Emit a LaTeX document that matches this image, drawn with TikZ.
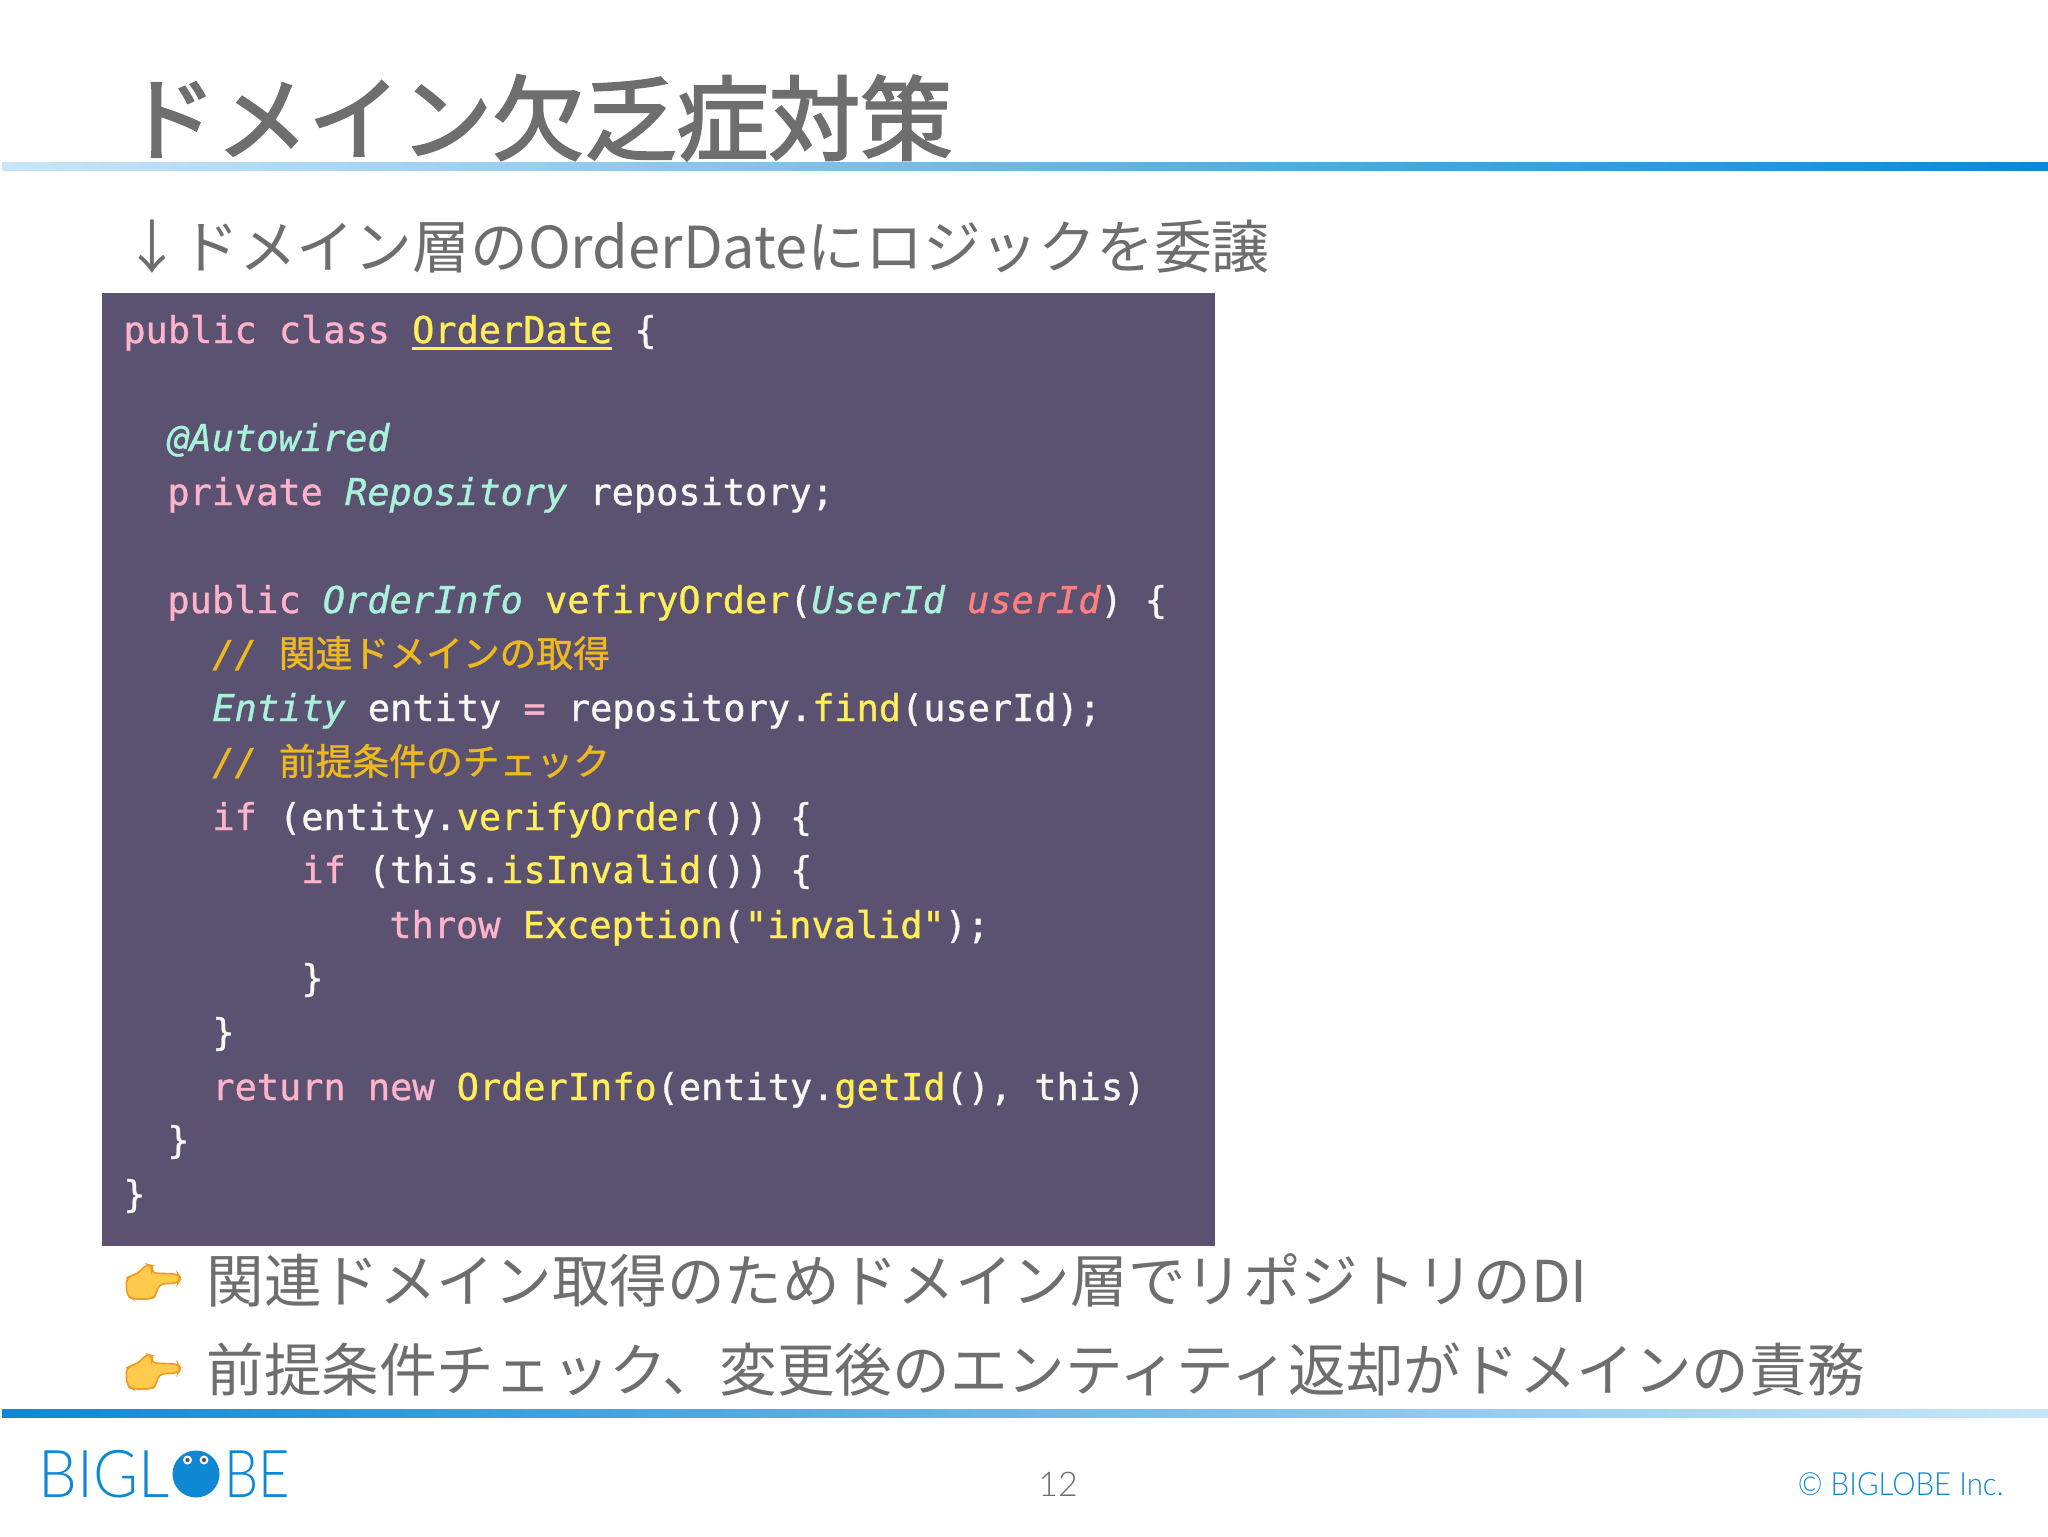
\documentclass[tikz,border=0pt]{standalone}
\usepackage{fontspec}
\setmainfont{Noto Sans CJK JP}
\newfontfamily\titlefont[FakeBold=2.4]{Noto Sans CJK JP}
\newfontfamily\codefont[FakeBold=1]{DejaVu Sans Mono}
\newfontfamily\jpcode[FakeBold=1]{Noto Sans CJK JP}
\newfontfamily\logofont{Lato Light}
\usepackage{xcolor}
\usetikzlibrary{positioning}
\definecolor{inkgray}{HTML}{6E6E6E}
\definecolor{panel}{HTML}{5B5272}
\definecolor{barblue}{HTML}{0E88D3}
\definecolor{barlight}{HTML}{C8E6F8}
\definecolor{keyword}{HTML}{FFB3CB}
\definecolor{typename}{HTML}{A9F2DA}
\definecolor{funcname}{HTML}{FFEE58}
\definecolor{argname}{HTML}{FF7F7F}
\definecolor{remark}{HTML}{EDB91F}
\definecolor{plain}{HTML}{F8F8F2}
\definecolor{handfill}{HTML}{FFCB4C}
\definecolor{handedge}{HTML}{F19A20}
\newcommand{\kw}[1]{\textcolor{keyword}{#1}}
\newcommand{\ty}[1]{\textcolor{typename}{\itshape #1}}
\newcommand{\fn}[1]{\textcolor{funcname}{#1}}
\newcommand{\ar}[1]{\textcolor{argname}{\itshape #1}}
\newcommand{\rem}[1]{\textcolor{remark}{\ty{\color{remark}//}\hspace{11pt}{\jpcode\fontsize{18.4pt}{20pt}\selectfont #1}}}
\tikzset{
    headtext/.style={anchor=base west, inner sep=0, text=inkgray},
    bodytext/.style={headtext, font=\fontsize{28.8pt}{32pt}\selectfont},
    codeline/.style={anchor=base west, inner sep=0, text=plain, font=\codefont\fontsize{18.45pt}{20pt}\selectfont},
    logotext/.style={anchor=base west, inner sep=0, text=barblue, font=\logofont\fontsize{33pt}{36pt}\selectfont},
    handicon/.pic={
        \draw[fill=handfill, draw=handedge, line width=0.8pt, rounded corners=2.5pt]
            (0,14) -- (5,12) -- (14,8) -- (20,0) -- (27,2) -- (25,9) -- (52,10) -- (55,14.5)
            -- (52,19) -- (33,20) -- (30,31) -- (26,35) -- (7,35) -- (1,32) -- cycle;
    }
}
\begin{document}
\begin{tikzpicture}[x=0.5pt, y=-0.5pt]
    \useasboundingbox (0, 0) rectangle (2048, 1536);
    \fill[white] (0, 0) rectangle (2048, 1536);
    % header and footer bars
    \shade[left color=barlight, right color=barblue] (2, 162) rectangle (2048, 170);
    \shade[left color=barblue, right color=barlight] (2, 1409) rectangle (2048, 1417);
    \node[headtext, font=\titlefont\fontsize{46pt}{50pt}\selectfont] (title) at (124, 153) {ドメイン欠乏症対策};
    \node[headtext, font=\fontsize{28.9pt}{32pt}\selectfont] (subtitle) at (123, 268) {↓ドメイン層のOrderDateにロジックを委譲};
    % code panel
    \fill[panel] (102, 293) rectangle (1215, 1246);
    \node[codeline] (line1) at (123, 343) {\kw{public class} \fn{\rlap{\rule[-3.6pt]{100pt}{1.5pt}}OrderDate} \{};
    \node[codeline] (line3) at (167, 451) {\ty{@Autowired}};
    \node[codeline] (line4) at (167, 505) {\kw{private} \ty{Repository} repository;};
    \node[codeline] (line6) at (167, 613) {\kw{public} \ty{OrderInfo} \fn{vefiryOrder}(\ty{UserId} \ar{userId}) \{};
    \node[codeline] (line7) at (212, 667) {\rem{関連ドメインの取得}};
    \node[codeline] (line8) at (212, 721) {\ty{Entity} entity \kw{=} repository.\fn{find}(userId);};
    \node[codeline] (line9) at (212, 775) {\rem{前提条件のチェック}};
    \node[codeline] (line10) at (212, 830) {\kw{if} (entity.\fn{verifyOrder}()) \{};
    \node[codeline] (line11) at (301, 883) {\kw{if} (this.\fn{isInvalid}()) \{};
    \node[codeline] (line12) at (389, 938) {\kw{throw} \fn{Exception}(\fn{"invalid"});};
    \node[codeline] (line13) at (301, 991) {\}};
    \node[codeline] (line14) at (212, 1045) {\}};
    \node[codeline] (line15) at (212, 1100) {\kw{return new} \fn{OrderInfo}(entity.\fn{getId}(), this)};
    \node[codeline] (line16) at (167, 1153) {\}};
    \node[codeline] (line17) at (123, 1207) {\}};
    % remarks below the panel
    \pic (hand1) at (126, 1264) {handicon};
    \pic (hand2) at (126, 1354) {handicon};
    \node[bodytext] (remark1) at (206, 1302) {関連ドメイン取得のためドメイン層でリポジトリのDI};
    \node[bodytext] (remark2) at (206, 1391) {前提条件チェック、変更後のエンティティ返却がドメインの責務};
    % footer
    \node[logotext] (logoleft) at (38, 1497) {\scalebox{0.93}[1]{BIGL}};
    \fill[barblue] (196, 1474) circle (23.5);
    \fill[white] (187.5, 1460) circle (4.5);
    \fill[white] (204, 1460) circle (4.5);
    \fill[panel] (187.5, 1460) circle (2.2);
    \fill[panel] (204, 1460) circle (2.2);
    \node[logotext] (logoright) at (224, 1497) {\scalebox{0.82}[1]{BE}};
    \node[anchor=base, inner sep=0, text=inkgray, font=\logofont\fontsize{17pt}{18pt}\selectfont] (pagenum) at (1058, 1496) {12};
    \node[anchor=base east, inner sep=0, text=barblue, font=\logofont\fontsize{16pt}{18pt}\selectfont] (copyright) at (2004, 1495) {\scalebox{0.92}[1]{© BIGLOBE Inc.}};
\end{tikzpicture}
\end{document}
